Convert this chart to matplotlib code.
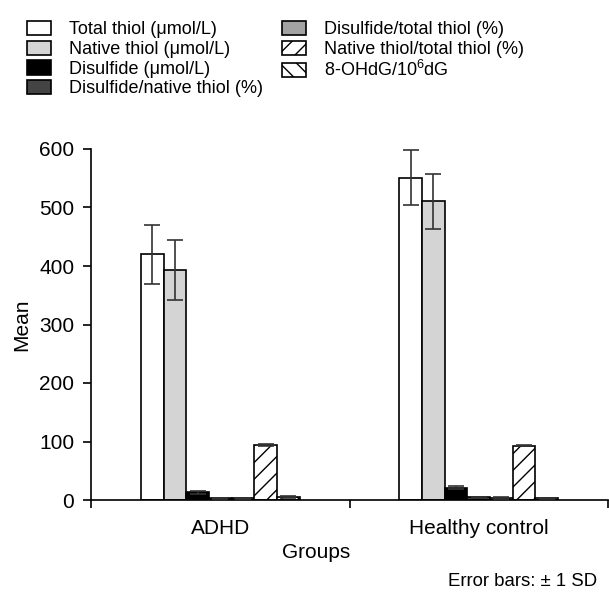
import matplotlib
matplotlib.use("Agg")
import matplotlib.pyplot as plt
import numpy as np

plt.rcParams['font.family'] = ['Liberation Sans', 'DejaVu Sans']
plt.rcParams['mathtext.fontset'] = 'custom'
plt.rcParams['mathtext.rm'] = 'Liberation Sans'
plt.rcParams['mathtext.it'] = 'Liberation Sans'
plt.rcParams['hatch.linewidth'] = 1.0

groups = ["ADHD", "Healthy control"]
series = ["Total thiol (μmol/L)", "Native thiol (μmol/L)", "Disulfide (μmol/L)",
          "Disulfide/native thiol (%)", "Disulfide/total thiol (%)",
          "Native thiol/total thiol (%)", "8-OHdG/10$^{6}$dG"]
adhd_mean = [420, 393, 13, 3.2, 3.0, 93.8, 5.0]
adhd_sd = [50, 51, 3, 0.8, 0.7, 1.5, 1.0]
ctrl_mean = [551, 511, 21, 4.5, 3.5, 93.0, 2.8]
ctrl_sd = [47, 47, 3, 1.0, 1.0, 1.5, 0.5]
yticks = [0, 100, 200, 300, 400, 500, 600]

facecolors = ['white', '#d4d4d4', 'black', '#444444', '#a3a3a3', 'white', 'white']
hatches = [None, None, None, None, None, '//', '\\\\']

fig = plt.figure(figsize=(6.09, 5.97), dpi=100)
ax = fig.add_axes([91/609, 1-500/597, (608-91)/609, (500-149)/597])

centers = np.array([0.5, 1.5])
width = 0.0878
n = len(series)
means = np.array([adhd_mean, ctrl_mean])
sds = np.array([adhd_sd, ctrl_sd])
handles = []
for i in range(n):
    x = centers - (n/2)*width + (i+0.5)*width
    b = ax.bar(x, means[:, i], width=width, color=facecolors[i], edgecolor='black',
               linewidth=1.2, hatch=hatches[i], label=series[i], zorder=2)
    ax.errorbar(x, means[:, i], yerr=sds[:, i], fmt='none', ecolor='#333333',
                elinewidth=1.2, capsize=5.5, capthick=1.2, zorder=3)
    handles.append(b)

fs = 15
ax.set_xlim(0, 2)
ax.set_ylim(0, 600)
ax.set_yticks(yticks)
ax.set_yticklabels([str(v) for v in yticks], fontsize=fs)
ax.set_xticks(centers)
ax.set_xticklabels(groups, fontsize=fs)
ax.set_xticks([0, 1, 2], minor=True)
ax.tick_params(axis='x', which='major', length=0, pad=14)
ax.tick_params(axis='x', which='minor', length=6, width=1.2, direction='out')
ax.tick_params(axis='y', length=6, width=1.2, direction='out', pad=6)
for s in ['top', 'right']:
    ax.spines[s].set_visible(False)
for s in ['left', 'bottom']:
    ax.spines[s].set_linewidth(1.2)
ax.set_ylabel("Mean", fontsize=fs, labelpad=6)

fig.text(316/609, 1-553/597, "Groups", fontsize=fs, ha='center', va='center')
fig.text(597/609, 1-581/597, "Error bars: ± 1 SD", fontsize=13.4, ha='right', va='center')

leg_kw = dict(frameon=False, fontsize=13, handlelength=1.35, handleheight=0.85,
              handletextpad=0.95, labelspacing=0.12, borderpad=0, borderaxespad=0)
l1 = fig.legend(handles[:4], series[:4], loc='upper left',
                bbox_to_anchor=(27/609, 1-21/597), **leg_kw)
l2 = fig.legend(handles[4:], series[4:], loc='upper left',
                bbox_to_anchor=(282/609, 1-21/597), **leg_kw)

fig.savefig("out.png", dpi=100)
